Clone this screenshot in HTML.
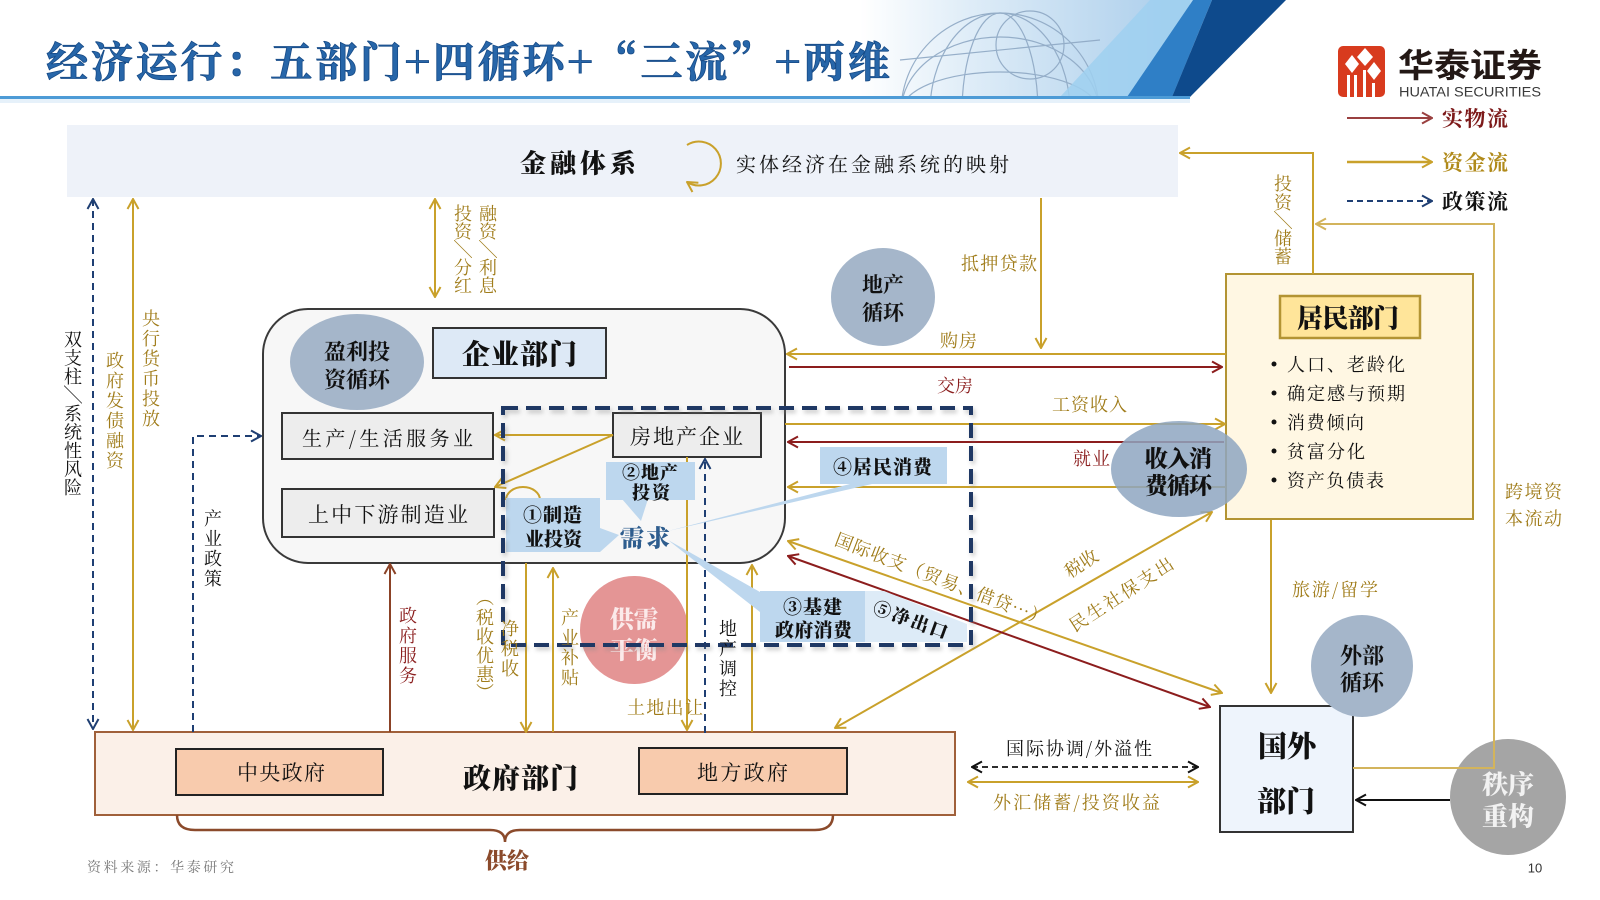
<!DOCTYPE html>
<html><head><meta charset="utf-8">
<style>
html,body{margin:0;padding:0;background:#fff;}
svg{display:block;}
text{font-family:"Noto Serif CJK SC","Liberation Serif",serif;}
.b{font-weight:700;}
.s{font-family:"Liberation Sans","Noto Sans CJK SC",sans-serif;}
</style></head><body>
<svg width="1600" height="900" viewBox="0 0 1600 900" xmlns="http://www.w3.org/2000/svg">
<defs>
<marker id="mg" viewBox="0 0 12 14" refX="11" refY="7" markerWidth="12" markerHeight="14" markerUnits="userSpaceOnUse" orient="auto-start-reverse"><path d="M1,1.5 L11,7 L1,12.5" fill="none" stroke="#c9a12b" stroke-width="2"/></marker>
<marker id="ml" viewBox="0 0 12 14" refX="11" refY="7" markerWidth="12" markerHeight="14" markerUnits="userSpaceOnUse" orient="auto-start-reverse"><path d="M1,1.5 L11,7 L1,12.5" fill="none" stroke="#d3b45c" stroke-width="2"/></marker>
<marker id="mr" viewBox="0 0 12 14" refX="11" refY="7" markerWidth="12" markerHeight="14" markerUnits="userSpaceOnUse" orient="auto-start-reverse"><path d="M1,1.5 L11,7 L1,12.5" fill="none" stroke="#8c1d1d" stroke-width="2"/></marker>
<marker id="mr2" viewBox="0 0 12 14" refX="11" refY="7" markerWidth="12" markerHeight="14" markerUnits="userSpaceOnUse" orient="auto-start-reverse"><path d="M1,1.5 L11,7 L1,12.5" fill="none" stroke="#9a4040" stroke-width="2"/></marker>
<marker id="mn" viewBox="0 0 12 14" refX="11" refY="7" markerWidth="12" markerHeight="14" markerUnits="userSpaceOnUse" orient="auto-start-reverse"><path d="M1,1.5 L11,7 L1,12.5" fill="none" stroke="#1f3f73" stroke-width="2"/></marker>
<marker id="mb" viewBox="0 0 12 14" refX="11" refY="7" markerWidth="12" markerHeight="14" markerUnits="userSpaceOnUse" orient="auto-start-reverse"><path d="M1,1.5 L11,7 L1,12.5" fill="none" stroke="#8b4226" stroke-width="2"/></marker>
<marker id="mk" viewBox="0 0 12 14" refX="11" refY="7" markerWidth="12" markerHeight="14" markerUnits="userSpaceOnUse" orient="auto-start-reverse"><path d="M1,1.5 L11,7 L1,12.5" fill="none" stroke="#111" stroke-width="2"/></marker>
<linearGradient id="bg1" gradientUnits="userSpaceOnUse" x1="860" y1="0" x2="1200" y2="0">
<stop offset="0" stop-color="#ffffff"/><stop offset="0.35" stop-color="#dcebf7"/><stop offset="1" stop-color="#a6cbea"/></linearGradient>
<clipPath id="hc"><rect x="860" y="0" width="340" height="97"/></clipPath>
<filter id="sh" x="-5%" y="-5%" width="110%" height="110%"><feGaussianBlur stdDeviation="2"/></filter>
</defs>

<!-- header -->
<rect x="860" y="0" width="330" height="97" fill="url(#bg1)"/>
<g clip-path="url(#hc)" fill="none" stroke="#8ea8c4" stroke-width="1.2" opacity="0.9">
<circle cx="1000" cy="112" r="99"/>
<ellipse cx="1000" cy="112" rx="70" ry="99"/>
<ellipse cx="1000" cy="112" rx="38" ry="99"/>
<ellipse cx="1000" cy="112" rx="99" ry="40"/>
<ellipse cx="1000" cy="112" rx="99" ry="75"/>
<circle cx="1030" cy="45" r="34"/>
<line x1="900" y1="60" x2="1100" y2="40"/>
</g>
<polygon points="1150,0 1193,0 1127,97 1060,97" fill="#9fd0f0" opacity="0.85"/>
<polygon points="1193,0 1212,0 1172,97 1127,97" fill="#2f7fc6"/>
<polygon points="1212,0 1286,0 1190,97 1172,97" fill="#0e4a8c"/>
<rect x="0" y="96" width="1190" height="3" fill="#4d9bd6"/>
<rect x="0" y="99" width="1190" height="4" fill="#e6f1fa"/>
<text x="46" y="60" font-size="42" class="b" font-weight="900" fill="#2766a9" stroke="#164a86" stroke-width="0.8" dominant-baseline="central" textLength="844" lengthAdjust="spacing">经济运行：五部门+四循环+“三流”+两维</text>

<!-- logo -->
<rect x="1338" y="46" width="47" height="51" rx="5" fill="#d83b1e"/>
<g fill="#fff">
<polygon points="1352,55 1359,64 1352,73 1345,64"/>
<polygon points="1365,48 1373,57 1365,66 1357,57"/>
<polygon points="1374,62 1381,71 1374,80 1367,71"/>
<rect x="1347" y="75" width="3" height="22"/>
<rect x="1354" y="75" width="3" height="22"/>
<rect x="1363" y="70" width="3" height="27"/>
<rect x="1372" y="83" width="3" height="14"/>
</g>
<text x="1398" y="63" font-size="33" font-weight="700" fill="#231815" dominant-baseline="central" textLength="144" lengthAdjust="spacingAndGlyphs" style="font-family:'Noto Sans CJK SC',sans-serif">华泰证券</text>
<text x="1399" y="92" font-size="13.5" fill="#3a3a3a" dominant-baseline="central" textLength="142" lengthAdjust="spacingAndGlyphs" class="s">HUATAI SECURITIES</text>

<!-- legend -->
<path d="M1347,118 H1432" stroke="#9a4040" stroke-width="2" marker-end="url(#mr2)"/>
<text x="1442" y="118" font-size="21" class="b" fill="#7d1a1a" dominant-baseline="central" textLength="66">实物流</text>
<path d="M1347,162 H1432" stroke="#c9a12b" stroke-width="2.5" marker-end="url(#mg)"/>
<text x="1442" y="162" font-size="21" class="b" fill="#b08a1a" dominant-baseline="central" textLength="66">资金流</text>
<path d="M1347,201 H1432" stroke="#1f3f73" stroke-width="2" stroke-dasharray="6 4" marker-end="url(#mn)"/>
<text x="1442" y="201" font-size="21" class="b" fill="#111" dominant-baseline="central" textLength="66">政策流</text>

<!-- financial system -->
<rect x="67" y="125" width="1111" height="72" fill="#eef2f9"/>
<text x="520" y="162" font-size="26" font-weight="900" fill="#111" dominant-baseline="central" textLength="116">金融体系</text>
<path d="M687,145 A22,22 0 1 1 687,182" fill="none" stroke="#c9a12b" stroke-width="2" marker-end="url(#mg)"/>
<text x="736" y="163" font-size="20" fill="#111" dominant-baseline="central" textLength="273">实体经济在金融系统的映射</text>

<!-- enterprise sector -->
<rect x="263" y="309" width="522" height="254" rx="45" fill="#f7f7f7" stroke="#3a3a3a" stroke-width="2"/>
<ellipse cx="357" cy="362" rx="67" ry="48" fill="#a5b6ca"/>
<text x="357" y="351" font-size="22" class="b" fill="#111" text-anchor="middle" dominant-baseline="central">盈利投</text>
<text x="357" y="379" font-size="22" class="b" fill="#111" text-anchor="middle" dominant-baseline="central">资循环</text>
<rect x="433" y="328" width="173" height="50" fill="#dde9f6" stroke="#333" stroke-width="2"/>
<text x="462" y="353" font-size="28" font-weight="900" fill="#111" dominant-baseline="central" textLength="115">企业部门</text>
<rect x="282" y="413" width="211" height="46" fill="#ededed" stroke="#333" stroke-width="2"/>
<text x="302" y="437" font-size="20" fill="#111" dominant-baseline="central" textLength="171">生产/生活服务业</text>
<rect x="282" y="489" width="212" height="48" fill="#ededed" stroke="#333" stroke-width="2"/>
<text x="308" y="514" font-size="21" fill="#111" dominant-baseline="central" textLength="160">上中下游制造业</text>
<rect x="613" y="413" width="148" height="44" fill="#ededed" stroke="#333" stroke-width="2"/>
<text x="630" y="436" font-size="21" fill="#111" dominant-baseline="central" textLength="113">房地产企业</text>

<!-- resident sector -->
<rect x="1226" y="274" width="247" height="245" fill="#fff7e3" stroke="#b39433" stroke-width="2"/>
<rect x="1280" y="296" width="140" height="42" fill="#ffe59a" stroke="#b39433" stroke-width="2.5"/>
<text x="1297" y="317" font-size="26" font-weight="900" fill="#111" dominant-baseline="central" textLength="102">居民部门</text>
<g fill="#111">
<circle cx="1274" cy="364" r="2.5"/><circle cx="1274" cy="393" r="2.5"/><circle cx="1274" cy="422" r="2.5"/><circle cx="1274" cy="451" r="2.5"/><circle cx="1274" cy="480" r="2.5"/>
</g>
<g font-size="18" fill="#111" dominant-baseline="central">
<text x="1287" y="364" textLength="118">人口、老龄化</text>
<text x="1287" y="393" textLength="118">确定感与预期</text>
<text x="1287" y="422" textLength="77">消费倾向</text>
<text x="1287" y="451" textLength="78">贫富分化</text>
<text x="1287" y="480" textLength="97">资产负债表</text>
</g>

<!-- government sector -->
<rect x="95" y="732" width="860" height="83" fill="#fbf0e8" stroke="#a0603a" stroke-width="2"/>
<rect x="176" y="749" width="207" height="46" fill="#f8cbad" stroke="#222" stroke-width="2"/>
<text x="237" y="772" font-size="21" fill="#111" dominant-baseline="central" textLength="88">中央政府</text>
<text x="463" y="777" font-size="28" font-weight="900" fill="#111" dominant-baseline="central" textLength="115">政府部门</text>
<rect x="639" y="748" width="208" height="46" fill="#f8cbad" stroke="#222" stroke-width="2"/>
<text x="697" y="772" font-size="21" fill="#111" dominant-baseline="central" textLength="91">地方政府</text>

<!-- foreign sector -->
<rect x="1220" y="706" width="133" height="126" fill="#eef4fc" stroke="#333" stroke-width="2"/>
<text x="1287" y="745" font-size="29" font-weight="900" fill="#111" text-anchor="middle" dominant-baseline="central">国外</text>
<text x="1286" y="800" font-size="29" font-weight="900" fill="#111" text-anchor="middle" dominant-baseline="central">部门</text>

<!-- circles -->
<ellipse cx="883" cy="297" rx="52" ry="49" fill="#a5b6ca"/>
<text x="883" y="284" font-size="21" class="b" fill="#111" text-anchor="middle" dominant-baseline="central">地产</text>
<text x="883" y="312" font-size="21" class="b" fill="#111" text-anchor="middle" dominant-baseline="central">循环</text>
<circle cx="634" cy="630" r="54" fill="#e38f8f" opacity="0.95"/>
<text x="634" y="617" font-size="24" font-weight="900" fill="#fbeaea" text-anchor="middle" dominant-baseline="central">供需</text>
<text x="634" y="648" font-size="24" font-weight="900" fill="#fbeaea" text-anchor="middle" dominant-baseline="central">平衡</text>
<circle cx="1362" cy="666" r="51" fill="#a5b6ca"/>
<text x="1362" y="655" font-size="22" class="b" fill="#111" text-anchor="middle" dominant-baseline="central">外部</text>
<text x="1362" y="682" font-size="22" class="b" fill="#111" text-anchor="middle" dominant-baseline="central">循环</text>
<circle cx="1508" cy="797" r="58" fill="#a5a5a5"/>
<text x="1508" y="783" font-size="26" font-weight="900" fill="#f2f2f2" text-anchor="middle" dominant-baseline="central">秩序</text>
<text x="1508" y="815" font-size="26" font-weight="900" fill="#f2f2f2" text-anchor="middle" dominant-baseline="central">重构</text>

<!-- gold flows -->
<g fill="none" stroke="#c9a12b" stroke-width="2">
<path d="M133,199 V730" marker-start="url(#mg)" marker-end="url(#mg)"/>
<path d="M435,199 V297" marker-start="url(#mg)" marker-end="url(#mg)"/>
<path d="M1041,198 V348" marker-end="url(#mg)"/>
<path d="M1226,354 H787" marker-end="url(#mg)"/>
<path d="M785,424 H1225" marker-end="url(#mg)"/>
<path d="M1226,487 H788" marker-end="url(#mg)"/>
<path d="M788,541 L1222,693" marker-start="url(#mg)" marker-end="url(#mg)"/>
<path d="M835,728 L1212,512" marker-start="url(#mg)" marker-end="url(#mg)"/>
<path d="M613,435 H495" marker-end="url(#mg)"/>
<path d="M613,435 L495,487" marker-end="url(#mg)"/>
<path d="M526,563 V732" marker-end="url(#mg)"/>
<path d="M553,732 V568" marker-end="url(#mg)"/>
<path d="M687,457 V730" marker-end="url(#mg)"/>
<path d="M752,732 V565" marker-end="url(#mg)"/>
<path d="M1271,520 V693" marker-end="url(#mg)"/>
<path d="M1313,274 V153 H1180" marker-end="url(#mg)"/>
<path d="M968,782 H1198" marker-start="url(#mg)" marker-end="url(#mg)"/>
<path d="M506,500 A17,13 0 0 1 540,500"/>
</g>
<path d="M1353,768 H1494 V224 H1316" fill="none" stroke="#d3b45c" stroke-width="2" marker-end="url(#ml)"/>
<!-- red flows -->
<g fill="none" stroke="#8c1d1d" stroke-width="2">
<path d="M789,367 H1222" marker-end="url(#mr)"/>
<path d="M1224,442 H788" marker-end="url(#mr)"/>
<path d="M788,556 L1210,707" marker-start="url(#mr)" marker-end="url(#mr)"/>
</g>
<!-- navy policy -->
<g fill="none" stroke="#1f3f73" stroke-width="2" stroke-dasharray="7 5">
<path d="M93,199 V729" marker-start="url(#mn)" marker-end="url(#mn)"/>
<path d="M193,732 V436 H261" marker-end="url(#mn)"/>
<path d="M705,733 V459" marker-end="url(#mn)"/>
</g>
<path d="M390,732 V564" fill="none" stroke="#8b4226" stroke-width="2" marker-end="url(#mb)"/>
<path d="M972,767 H1198" fill="none" stroke="#111" stroke-width="1.8" stroke-dasharray="6 4" marker-start="url(#mk)" marker-end="url(#mk)"/>
<path d="M1450,800 H1356" fill="none" stroke="#111" stroke-width="2" marker-end="url(#mk)"/>

<!-- demand callouts -->
<g fill="#bdd7ee">
<polygon points="850,484 872,484 668,531"/>
<polygon points="668,540 760,592 760,612"/>
<rect x="506" y="498" width="94" height="54"/>
<polygon points="600,528 619,535 600,552"/>
<rect x="606" y="462" width="89" height="38"/>
<polygon points="622,499 648,499 641,521"/>
<rect x="820" y="447" width="127" height="37"/>
<rect x="760" y="591" width="105" height="51"/>
</g>
<polygon points="865,591 884,591 967,624 967,642 865,642" fill="#ddebf7"/>
<g font-size="19" font-weight="900" fill="#111" dominant-baseline="central">
<text x="523" y="514" textLength="59">①制造</text>
<text x="525" y="538" textLength="57">业投资</text>
<text x="622" y="472" font-size="18" textLength="56">②地产</text>
<text x="632" y="492" font-size="18" textLength="38">投资</text>
<text x="833" y="466" textLength="99">④居民消费</text>
<text x="783" y="606" textLength="59">③基建</text>
<text x="775" y="629" textLength="77">政府消费</text>
<text x="0" y="0" font-size="18" transform="translate(874,606) rotate(20)" textLength="78">⑤净出口</text>
</g>
<text x="620" y="536" font-size="24" font-weight="900" fill="#2e5d8e" dominant-baseline="central" textLength="50">需求</text>

<!-- dashed demand frame -->
<rect x="505" y="411" width="468" height="237" fill="none" stroke="#888" stroke-width="4" stroke-dasharray="15 8" opacity="0.45" filter="url(#sh)"/>
<rect x="503" y="408" width="468" height="237" fill="none" stroke="#1f3864" stroke-width="4" stroke-dasharray="15 8"/>

<!-- income-consumption circle -->
<ellipse cx="1179" cy="469" rx="68" ry="48" fill="#8ea6c1" opacity="0.85"/>
<text x="1145" y="457" font-size="23" font-weight="900" fill="#111" dominant-baseline="central" textLength="67">收入消</text>
<text x="1145" y="484" font-size="23" font-weight="900" fill="#111" dominant-baseline="central" textLength="67">费循环</text>

<!-- horizontal labels -->
<g font-size="18" dominant-baseline="central">
<text x="961" y="263" fill="#a07c1a" textLength="76">抵押贷款</text>
<text x="940" y="340" fill="#a07c1a" textLength="37">购房</text>
<text x="937" y="385" fill="#8b1e1e" textLength="36">交房</text>
<text x="1052" y="404" fill="#a07c1a" textLength="75">工资收入</text>
<text x="1073" y="458" fill="#8b1e1e" textLength="37">就业</text>
<text x="1292" y="589" fill="#a07c1a" textLength="86">旅游/留学</text>
<text x="1505" y="491" fill="#a07c1a" textLength="57">跨境资</text>
<text x="1505" y="518" fill="#a07c1a" textLength="57">本流动</text>
<text x="1006" y="748" fill="#111" textLength="146">国际协调/外溢性</text>
<text x="993" y="802" fill="#a07c1a" textLength="167">外汇储蓄/投资收益</text>
<text x="627" y="707" fill="#a07c1a" textLength="76">土地出让</text>
<text x="0" y="0" transform="translate(836,538) rotate(21)" fill="#a07c1a" textLength="226">国际收支（贸易、借贷…）</text>
<text x="0" y="0" transform="translate(1081,563) rotate(-33)" fill="#a07c1a" text-anchor="middle">税收</text>
<text x="0" y="0" transform="translate(1121,594) rotate(-33)" fill="#a07c1a" text-anchor="middle" textLength="120">民生社保支出</text>
</g>

<!-- vertical labels -->
<g font-size="18" text-anchor="middle" dominant-baseline="central">
<g fill="#111">
<text x="73" y="339">双</text><text x="73" y="357.5">支</text><text x="73" y="376">柱</text><text x="73" y="394.5">╲</text><text x="73" y="413">系</text><text x="73" y="431.5">统</text><text x="73" y="450">性</text><text x="73" y="468.5">风</text><text x="73" y="487">险</text>
<text x="213" y="518">产</text><text x="213" y="538">业</text><text x="213" y="558">政</text><text x="213" y="578">策</text>
<text x="728" y="628">地</text><text x="728" y="648">产</text><text x="728" y="668">调</text><text x="728" y="688">控</text>
</g>
<g fill="#a07c1a">
<text x="115" y="360">政</text><text x="115" y="380">府</text><text x="115" y="400">发</text><text x="115" y="420">债</text><text x="115" y="440">融</text><text x="115" y="460">资</text>
<text x="151" y="318">央</text><text x="151" y="338">行</text><text x="151" y="358">货</text><text x="151" y="378">币</text><text x="151" y="398">投</text><text x="151" y="418">放</text>
<text x="463" y="213">投</text><text x="463" y="231">资</text><text x="463" y="249">╲</text><text x="463" y="267">分</text><text x="463" y="285">红</text>
<text x="488" y="213">融</text><text x="488" y="231">资</text><text x="488" y="249">╲</text><text x="488" y="267">利</text><text x="488" y="285">息</text>
<text x="1283" y="183">投</text><text x="1283" y="202">资</text><text x="1283" y="220">╲</text><text x="1283" y="238">储</text><text x="1283" y="256">蓄</text>
<text x="485" y="597">︵</text><text x="485" y="617">税</text><text x="485" y="636">收</text><text x="485" y="655">优</text><text x="485" y="674">惠</text><text x="485" y="692">︶</text>
<text x="510" y="628">净</text><text x="510" y="648">税</text><text x="510" y="668">收</text>
<text x="570" y="617">产</text><text x="570" y="637">业</text><text x="570" y="657">补</text><text x="570" y="677">贴</text>
</g>
<g fill="#8b1e1e">
<text x="408" y="615">政</text><text x="408" y="635">府</text><text x="408" y="655">服</text><text x="408" y="675">务</text>
</g>
</g>

<!-- brace / footer -->
<path d="M177,815 Q177,830 195,830 L490,830 Q505,830 505,842 Q505,830 520,830 L815,830 Q833,830 833,815" fill="none" stroke="#8b4a2b" stroke-width="2.5"/>
<text x="507" y="860" font-size="22" font-weight="900" fill="#8b4a2b" text-anchor="middle" dominant-baseline="central">供给</text>
<text x="87" y="867" font-size="14" fill="#7a7a7a" dominant-baseline="central" textLength="147">资料来源：华泰研究</text>
<text x="1535" y="868" font-size="13" fill="#333" text-anchor="middle" dominant-baseline="central" class="s">10</text>
</svg>
</body></html>
